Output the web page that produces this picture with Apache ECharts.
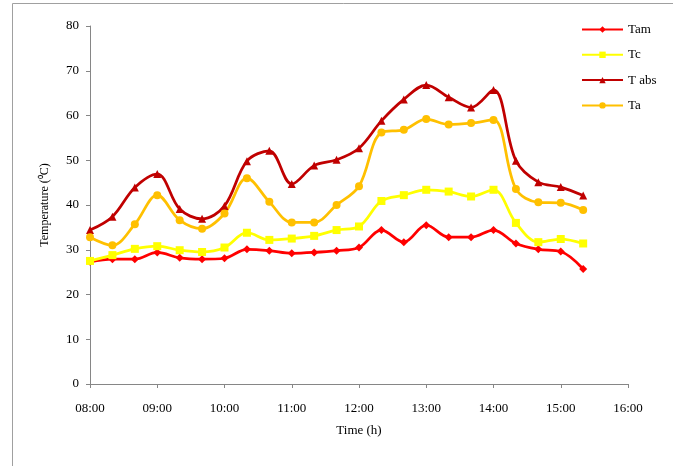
<!DOCTYPE html>
<html><head><meta charset="utf-8">
<script src="https://cdn.jsdelivr.net/npm/echarts@6/dist/echarts.min.js"></script>
<style>html,body{margin:0;padding:0;background:#fff}#c{width:673px;height:466px}</style>
</head><body><div id="c"></div>
<script>
var times = ["08:00","08:20","08:40","09:00","09:20","09:40","10:00","10:20","10:40","11:00","11:20","11:40","12:00","12:20","12:40","13:00","13:20","13:40","14:00","14:20","14:40","15:00","15:20"];
var Tam  = [27.3,27.9,27.9,29.4,28.2,27.9,28.1,30.1,29.8,29.2,29.4,29.8,30.5,34.4,31.7,35.5,32.8,32.8,34.4,31.4,30.1,29.6,25.7];
var Tc   = [27.5,28.8,30.2,30.8,29.9,29.5,30.5,33.8,32.2,32.5,33.1,34.4,35.2,40.9,42.2,43.4,43.0,41.9,43.4,36.0,31.7,32.4,31.4];
var Tabs = [34.4,37.4,43.9,46.9,39.1,36.9,39.8,49.8,52.1,44.7,48.8,50.1,52.7,58.8,63.6,66.8,64.1,61.8,65.7,49.9,45.1,44.0,42.1];
var Ta   = [32.8,31.0,35.7,42.2,36.6,34.7,38.1,46.0,40.7,36.1,36.1,40.0,44.2,56.2,56.8,59.2,58.0,58.3,59.0,43.6,40.6,40.5,38.9];
var xTicks = ["08:00","09:00","10:00","11:00","12:00","13:00","14:00","15:00","16:00"];

function toMin(t){var p=t.split(":");return (+p[0])*60+(+p[1]);}
function pairs(v){return times.map(function(t,i){return [toMin(t),v[i]];});}
function fmt(m){var h=Math.floor(m/60),mm=m%60;return (h<10?"0":"")+h+":"+(mm<10?"0":"")+mm;}

var font = "Liberation Serif";
var axisCol = "#868686";
function ser(name, data, color, symbol, size){
  return {name:name,type:"line",data:pairs(data),smooth:0.35,symbol:symbol,symbolSize:size,
    lineStyle:{color:color,width:2.75},itemStyle:{color:color},emphasis:{disabled:true}};
}
var chart = echarts.init(document.getElementById("c"));
chart.setOption({
  animation:false,
  backgroundColor:"#fff",
  graphic:[{type:"rect",shape:{x:12.5,y:3.5,width:700,height:500},style:{fill:"none",stroke:"#a0a0a0",lineWidth:1},silent:true}],
  grid:{left:90,right:45,top:26,bottom:82,containLabel:false},
  legend:{orient:"vertical",left:576,top:18,itemGap:12.3,itemWidth:41,itemHeight:8,itemTextGap:2,
    textStyle:{fontFamily:font,fontSize:13,color:"#000"},
    data:["Tam","Tc","T abs","Ta"]},
  xAxis:{type:"value",min:480,max:960,interval:60,
    name:"Time (h)",nameLocation:"middle",nameGap:40,
    nameTextStyle:{fontFamily:font,fontSize:13,color:"#000"},
    axisLine:{lineStyle:{color:axisCol}},axisTick:{show:true,length:4,lineStyle:{color:axisCol}},
    splitLine:{show:false},
    axisLabel:{fontFamily:font,fontSize:13,color:"#000",margin:18,
      formatter:function(v){var s=fmt(v);return xTicks.indexOf(s)>=0?s:"";}}},
  yAxis:{type:"value",min:0,max:80,interval:10,
    name:"Temperature (\u2070C)",nameLocation:"middle",nameGap:39,nameRotate:90,
    nameTextStyle:{fontFamily:font,fontSize:12,color:"#000"},
    axisLine:{show:true,lineStyle:{color:axisCol}},axisTick:{show:true,length:4,lineStyle:{color:axisCol}},
    splitLine:{show:false},
    axisLabel:{fontFamily:font,fontSize:13,color:"#000",margin:11}},
  series:[
    ser("Tam",Tam,"#FF0000","diamond",8),
    ser("Tc",Tc,"#FFFF00","rect",8),
    ser("T abs",Tabs,"#C00000","triangle",8),
    ser("Ta",Ta,"#FFC000","circle",8)
  ]
});
</script></body></html>
